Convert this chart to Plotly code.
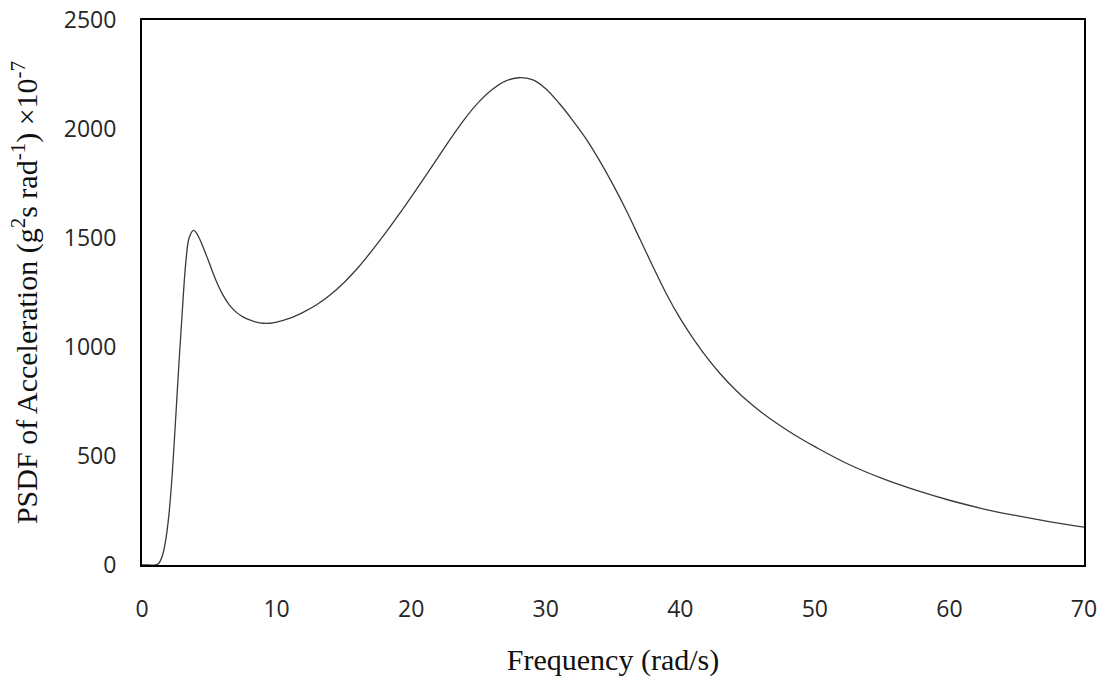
import plotly.graph_objects as go

# frequency (rad/s) and PSDF values
freq = [0, 0.5, 1.0, 1.25, 1.5, 1.75, 2.0, 2.25, 2.5, 2.75, 3.0, 3.25, 3.5, 3.82,
        4.0, 4.25, 4.5, 5.0, 5.5, 6.0, 6.5, 7.0, 7.5, 8.0, 8.5, 9.0, 9.5,
        10, 11, 12, 13, 14, 15, 16, 17, 18, 19, 20, 21, 22, 23, 24, 25, 26, 27,
        28, 29, 30, 31, 32, 33, 34, 35, 36, 37, 38, 39, 40, 41, 42, 43, 44, 45,
        46, 47, 48, 49, 50, 52.5, 55, 57.5, 60, 62.5, 65, 67.5, 70]
psdf = [0, 0, 0, 8, 40, 110, 230, 420, 670, 930, 1170, 1385, 1500, 1535,
        1527, 1500, 1465, 1385, 1305, 1240, 1192, 1160, 1138, 1124, 1114, 1109, 1109,
        1114, 1132, 1160, 1195, 1240, 1295, 1360, 1435, 1515, 1600, 1688, 1778, 1870, 1962, 2048, 2122, 2180, 2220,
        2235, 2226, 2185, 2118, 2040, 1955, 1855, 1745, 1625, 1495, 1365, 1240, 1130, 1035, 950, 875, 810, 752,
        702, 657, 616, 578, 543, 462, 397, 343, 297, 258, 226, 198, 174]

x_ticks = [0, 10, 20, 30, 40, 50, 60, 70]
y_ticks = [0, 500, 1000, 1500, 2000, 2500]

fig = go.Figure()
fig.add_trace(go.Scatter(x=freq, y=psdf, mode='lines',
                         line=dict(color='#3a3a3a', width=1.3, shape='spline', smoothing=1.0),
                         showlegend=False))

fig.update_layout(
    width=1102, height=683,
    margin=dict(l=142, r=18, t=20, b=118),
    paper_bgcolor='white', plot_bgcolor='white',
    font=dict(family='Open Sans', size=23, color='#262626'),
)
fig.update_xaxes(
    range=[0, 70], tickvals=x_ticks, showgrid=False, zeroline=False,
    showline=True, linecolor='black', linewidth=2, mirror=True,
    ticks='', ticklabelstandoff=22, automargin=False, ticklabeloverflow='allow',
    title=dict(text='Frequency (rad/s)', font=dict(family='Liberation Serif', size=30, color='#111111'),
               standoff=26),
)
fig.update_yaxes(
    range=[0, 2500], tickvals=y_ticks, showgrid=False, zeroline=False,
    showline=True, linecolor='black', linewidth=2, mirror=True,
    ticks='', ticklabelstandoff=19, automargin=False, ticklabeloverflow='allow',
    title=dict(text='PSDF of Acceleration (g<sup>2</sup>s rad<sup>-1</sup>) \u00d710<sup>-7</sup>',
               font=dict(family='Liberation Serif', size=30, color='#111111'), standoff=17),
)

# drop the default 8px body margin so the 1102x683 figure fills the window exactly
fig.write_html("out.html", config={'displayModeBar': False},
               post_script="document.body.style.margin='0';")
